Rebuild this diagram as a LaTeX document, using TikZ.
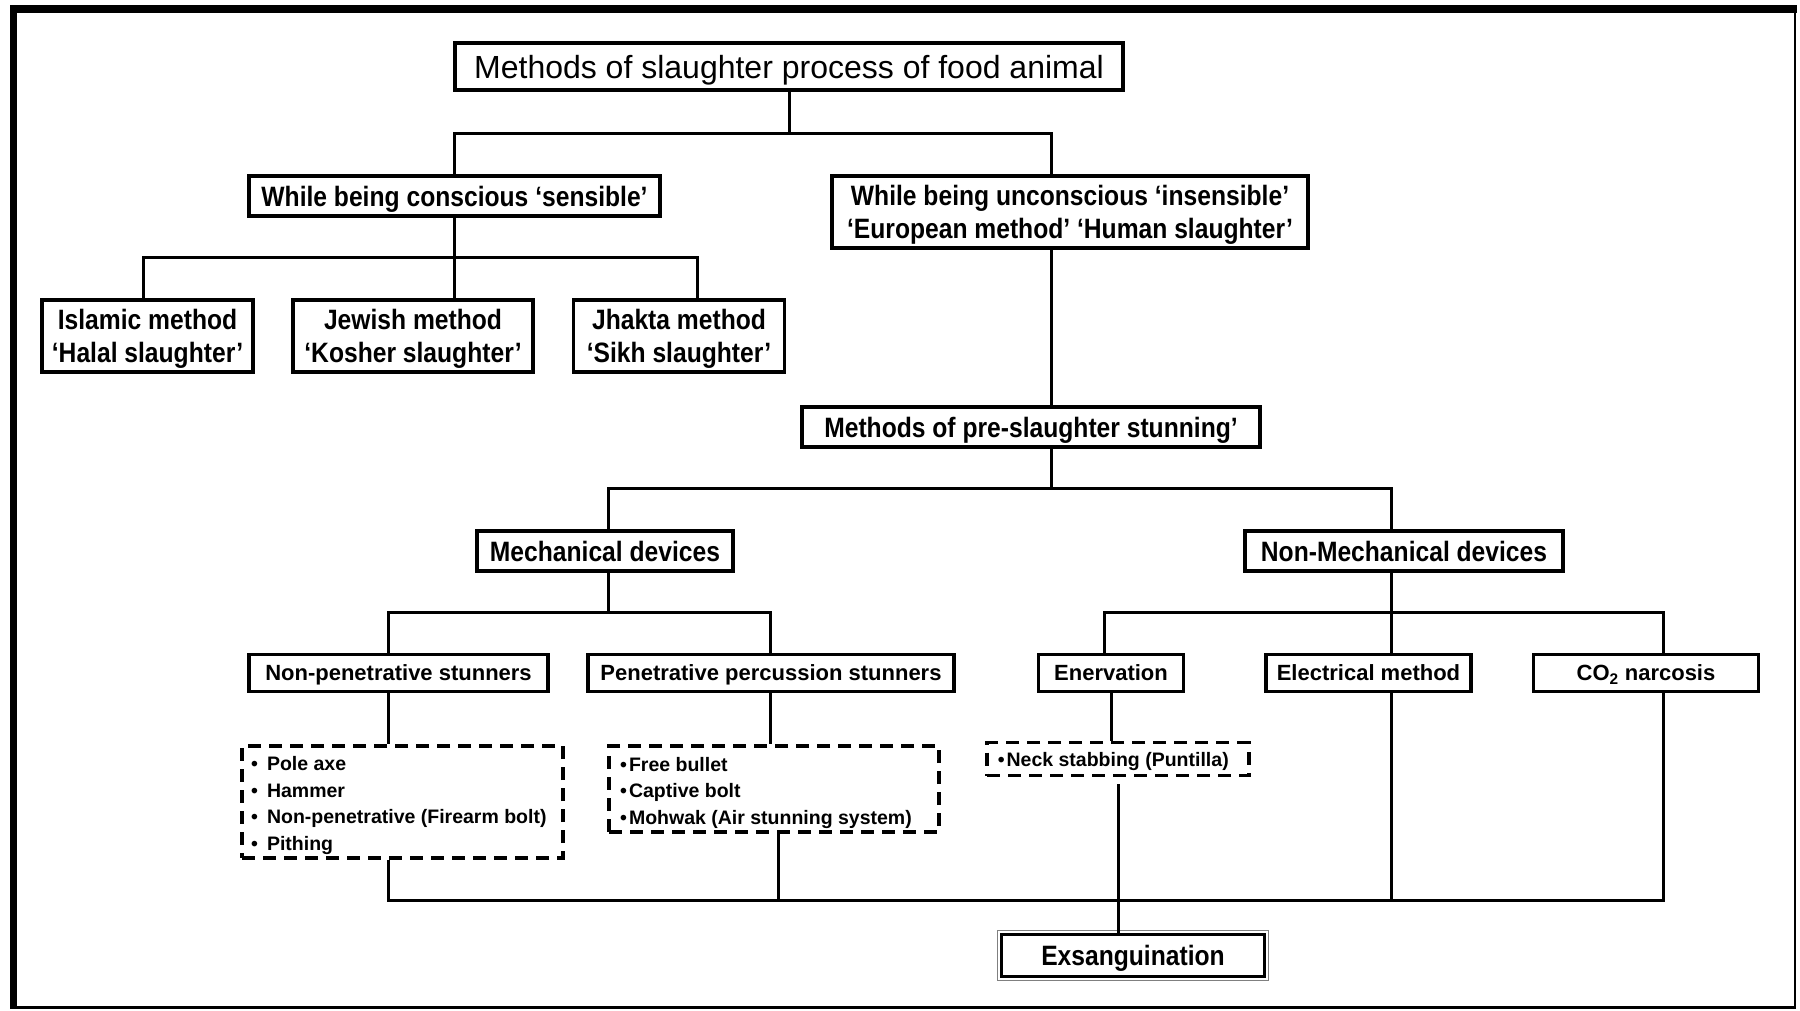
\documentclass[tikz,border=0pt]{standalone}
\usepackage{fontspec}
\setmainfont{Liberation Sans}
\newfontfamily\condf[FakeStretch=0.88]{Liberation Sans}
\begin{document}
\begin{tikzpicture}[x=1pt,y=-1pt,
  conn/.style={line width=3pt},
  box/.style={draw, line width=3.5pt, inner sep=0pt, align=center, text depth=0pt},
  big/.style={box, font=\condf\bfseries\fontsize{28}{33}\selectfont},
  small/.style={box, font=\bfseries\fontsize{22}{26}\selectfont},
  dbox/.style={draw, line width=3.5pt, dash pattern=on 13pt off 8pt, inner sep=0pt},
  items/.style={anchor=west, align=left, inner sep=0pt, font=\bfseries\fontsize{19.5}{26.5}\selectfont},
]
\useasboundingbox (0,0) rectangle (1800,1010);
\fill[white] (0,0) rectangle (1800,1010);
% frame
\fill (10,5) rectangle (1797,13);
\fill (10,5) rectangle (17,1009);
\draw[line width=2.5pt] (1795,5) -- (1795,1009);
\draw[line width=2.5pt] (10,1007.5) -- (1796,1007.5);

% nodes
\node[box, minimum width=668, minimum height=47, font=\fontsize{32}{37}\selectfont] (title) at (789,66.5) {Methods of slaughter process of food animal};
\node[big, minimum width=411, minimum height=40] (cons) at (454.5,196) {While being conscious ‘sensible’};
\node[big, minimum width=476, minimum height=72] (uncons) at (1070,212) {While being unconscious ‘insensible’\\‘European method’ ‘Human slaughter’};
\node[big, minimum width=211, minimum height=72] (isl) at (147.5,336) {Islamic method\\‘Halal slaughter’};
\node[big, minimum width=240, minimum height=72] (jew) at (413,336) {Jewish method\\‘Kosher slaughter’};
\node[big, minimum width=211, minimum height=72] (jha) at (679,336) {Jhakta method\\‘Sikh slaughter’};
\node[big, minimum width=458, minimum height=40] (pre) at (1031,427) {Methods of pre-slaughter stunning’};
\node[big, minimum width=256, minimum height=40] (mech) at (605,551) {Mechanical devices};
\node[big, minimum width=318, minimum height=40] (nonm) at (1404,551) {Non-Mechanical devices};
\node[small, minimum width=299, minimum height=37] (nonpen) at (398.5,673) {Non-penetrative stunners};
\node[small, minimum width=366, minimum height=37] (pen) at (771,673) {Penetrative percussion stunners};
\node[small, minimum width=145, minimum height=37] (ener) at (1111,673) {Enervation};
\node[small, minimum width=205, minimum height=37] (elec) at (1368.5,673) {Electrical method};
\node[small, minimum width=225, minimum height=37] (co2) at (1646,673) {CO\textsubscript{2} narcosis};
\node[dbox, minimum width=321, minimum height=112] (d1) at (402.5,802) {};
\node[dbox, minimum width=330, minimum height=86] (d2) at (774,789) {};
\node[dbox, minimum width=262, minimum height=33] (d3) at (1118,759) {};
\node[items] (t1) at (251,805.5) {•\hspace{9pt}Pole axe\\•\hspace{9pt}Hammer\\•\hspace{9pt}Non-penetrative (Firearm bolt)\\•\hspace{9pt}Pithing};
\node[items] (t2) at (620,792.5) {•\hspace{2pt}Free bullet\\•\hspace{2pt}Captive bolt\\•\hspace{2pt}Mohwak (Air stunning system)};
\node[items] (t3) at (997.6,761) {•\hspace{2pt}Neck stabbing (Puntilla)};
\node[big, line width=2.5pt, minimum width=263, minimum height=42] (exs) at (1133,955.5) {Exsanguination};
\draw[gray, line width=1.2pt] ([xshift=-3pt,yshift=3pt]exs.north west) rectangle ([xshift=3pt,yshift=-3pt]exs.south east);

% helper coordinates
\coordinate (yb1) at (0,133);
\coordinate (yb2) at (0,257);
\coordinate (yb3) at (0,488);
\coordinate (yb4) at (0,612);
\coordinate (yb5) at (0,900);
\coordinate (xU) at (1051.6,0);
\coordinate (xI) at (143.5,0);
\coordinate (xJh) at (697,0);
\coordinate (xM) at (608.5,0);
\coordinate (xN) at (1391,0);
\coordinate (xNP) at (388,0);
\coordinate (xP) at (770,0);
\coordinate (xE) at (1104,0);
\coordinate (xE2) at (1111,0);
\coordinate (xD2) at (778,0);
\coordinate (xC) at (1663.5,0);
\coordinate (xX) at (1118,0);
\coordinate (d3gap) at (1118,784);

% connectors
\draw[conn] (title.south) -- (title.south |- yb1);
\draw[conn] (cons.north) |- (xU |- yb1) -- (uncons.north -| xU);
\draw[conn] (cons.south) -- (jew.north -| cons.south);
\draw[conn] (isl.north -| xI) -- (xI |- yb2) -- (xJh |- yb2) -- (jha.north -| xJh);
\draw[conn] (uncons.south -| xU) -- (pre.north -| xU);
\draw[conn] (pre.south -| xU) -- (xU |- yb3);
\draw[conn] (mech.north -| xM) -- (xM |- yb3) -- (xN |- yb3) -- (nonm.north -| xN);
\draw[conn] (mech.south -| xM) -- (xM |- yb4);
\draw[conn] (nonpen.north -| xNP) -- (xNP |- yb4) -- (xP |- yb4) -- (pen.north -| xP);
\draw[conn] (nonm.south -| xN) -- (elec.north -| xN);
\draw[conn] (ener.north -| xE) -- (xE |- yb4) -- (xC |- yb4) -- (co2.north -| xC);
\draw[conn] (nonpen.south -| xNP) -- (d1.north -| xNP);
\draw[conn] (pen.south -| xP) -- (d2.north -| xP);
\draw[conn] (ener.south -| xE2) -- (d3.north -| xE2);
\draw[conn] (d1.south -| xNP) -- (xNP |- yb5) -- (xC |- yb5) -- (co2.south -| xC);
\draw[conn] (d2.south -| xD2) -- (xD2 |- yb5);
\draw[conn] (elec.south -| xN) -- (xN |- yb5);
\draw[conn] (d3gap) -- (exs.north -| xX);
\end{tikzpicture}
\end{document}
